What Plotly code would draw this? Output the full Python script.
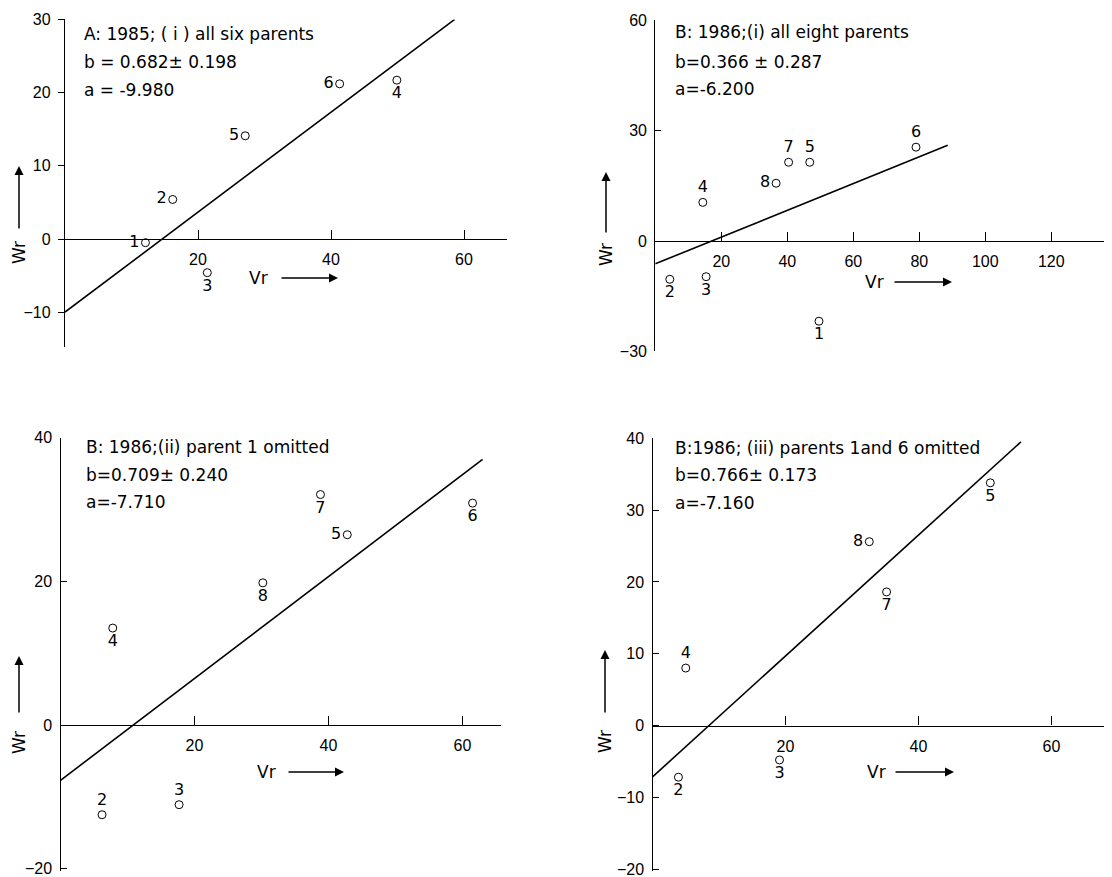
import plotly.graph_objects as go

# The page body adds an 8px margin, so the figure is shifted by OFF pixels;
# all pixel positions below are measured on the 1112x877 reference.
OFF = 8
W, H = 1112 - OFF, 877 - OFF

# ---------------- data ----------------
A_parents = ['1', '2', '3', '4', '5', '6']
A_vr = [12.1, 16.2, 21.4, 49.9, 27.1, 41.3]
A_wr = [-0.5, 5.4, -4.6, 21.7, 14.1, 21.2]
A_line_vr = [0, 58.6]
A_line_wr = [-9.98, 30.0]
A_text = ['A: 1985; ( i ) all six parents', 'b = 0.682± 0.198', 'a = -9.980']

B1_parents = ['1', '2', '3', '4', '5', '6', '7', '8']
B1_vr = [49.6, 4.4, 15.4, 14.4, 46.8, 79.0, 40.4, 36.6]
B1_wr = [-21.8, -10.4, -9.7, 10.5, 21.4, 25.5, 21.4, 15.7]
B1_line_vr = [0, 88.6]
B1_line_wr = [-6.2, 26.0]
B1_text = ['B: 1986;(i) all eight parents', 'b=0.366 ± 0.287', 'a=-6.200']

B2_parents = ['2', '3', '4', '5', '6', '7', '8']
B2_vr = [6.2, 17.7, 7.8, 42.8, 61.5, 38.8, 30.2]
B2_wr = [-12.5, -11.1, 13.5, 26.5, 30.9, 32.1, 19.8]
B2_line_vr = [0, 63.0]
B2_line_wr = [-7.71, 37.0]
B2_text = ['B: 1986;(ii) parent 1 omitted', 'b=0.709± 0.240', 'a=-7.710']

B3_parents = ['2', '3', '4', '5', '7', '8']
B3_vr = [3.9, 19.1, 5.0, 50.8, 35.2, 32.6]
B3_wr = [-7.2, -4.8, 8.0, 33.8, 18.6, 25.6]
B3_line_vr = [0, 55.4]
B3_line_wr = [-7.16, 39.5]
B3_text = ['B:1986; (iii) parents 1and 6 omitted', 'b=0.766± 0.173', 'a=-7.160']

A_xticks = [20, 40, 60]
A_yticks = [-10, 0, 10, 20, 30]
B1_xticks = [20, 40, 60, 80, 100, 120]
B1_yticks = [-30, 0, 30, 60]
B2_xticks = [20, 40, 60]
B2_yticks = [-20, 0, 20, 40]
B3_xticks = [20, 40, 60]
B3_yticks = [-20, -10, 0, 10, 20, 30, 40]

# ---------------- styling / layout ----------------
FONT = 'Liberation Sans'
TFONT = 'DejaVu Sans'
FS = 16
TS = 17

panels = [
    dict(vr=A_vr, wr=A_wr, lab=A_parents, lvr=A_line_vr, lwr=A_line_wr, txt=A_text,
         xt=A_xticks, yt=A_yticks,
         pos=['middle left', 'middle left', 'bottom center', 'bottom center', 'middle left', 'middle left'],
         px0=65, sx=6.65, xmax=66.5, py0=239, sy=7.32, ymin=-14.8, ymax=30, yticks='outside',
         tx=82, ty=[34, 62, 90], wr_xy=(19, 252), wr_arrow=(230, 166), vr_xy=(258, 278), vr_arrow=(280, 338)),
    dict(vr=B1_vr, wr=B1_wr, lab=B1_parents, lvr=B1_line_vr, lwr=B1_line_wr, txt=B1_text,
         xt=B1_xticks, yt=B1_yticks,
         pos=['bottom center', 'bottom center', 'bottom center', 'top center', 'top center', 'top center', 'top center', 'middle left'],
         px0=655.3, sx=3.3, xmax=137.5, py0=241, sy=3.68, ymin=-30, ymax=60, yticks='inside',
         tx=673, ty=[32, 62, 89], wr_xy=(606, 255), wr_arrow=(234, 172), vr_xy=(874, 282), vr_arrow=(893, 952)),
    dict(vr=B2_vr, wr=B2_wr, lab=B2_parents, lvr=B2_line_vr, lwr=B2_line_wr, txt=B2_text,
         xt=B2_xticks, yt=B2_yticks,
         pos=['top center', 'top center', 'bottom center', 'middle left', 'bottom center', 'bottom center', 'bottom center'],
         px0=60.5, sx=6.7, xmax=65.8, py0=725, sy=7.18, ymin=-20.3, ymax=40, yticks='inside',
         tx=84, ty=[447, 475, 502], wr_xy=(19, 742), wr_arrow=(714, 656), vr_xy=(266, 772), vr_arrow=(287, 344)),
    dict(vr=B3_vr, wr=B3_wr, lab=B3_parents, lvr=B3_line_vr, lwr=B3_line_wr, txt=B3_text,
         xt=B3_xticks, yt=B3_yticks,
         pos=['bottom center', 'bottom center', 'top center', 'bottom center', 'bottom center', 'middle left'],
         px0=652.5, sx=6.65, xmax=69, py0=725.5, sy=7.18, ymin=-20.3, ymax=40, yticks='inside',
         tx=673, ty=[448, 475, 503], wr_xy=(605, 742), wr_arrow=(714, 650), vr_xy=(876, 772), vr_arrow=(894, 954)),
]


def fx(px):
    return (px - OFF) / W


def fy(py):
    return 1 - (py - OFF) / H


fig = go.Figure()
annotations = []
layout = {}

for i, p in enumerate(panels, start=1):
    sfx = '' if i == 1 else str(i)
    xa, ya = 'x' + sfx, 'y' + sfx
    fig.add_trace(go.Scatter(x=p['lvr'], y=p['lwr'], mode='lines', xaxis=xa, yaxis=ya,
                             line=dict(color='black', width=1.6), showlegend=False, hoverinfo='skip'))
    fig.add_trace(go.Scatter(x=p['vr'], y=p['wr'], mode='markers+text', text=p['lab'],
                             textposition=p['pos'], xaxis=xa, yaxis=ya,
                             textfont=dict(family=TFONT, size=FS, color='black'),
                             marker=dict(symbol='circle-open', size=8, color='black', line=dict(width=1)),
                             showlegend=False, cliponaxis=False))
    x0p = fx(p['px0'])
    x1p = min(1.0, fx(p['px0'] + p['sx'] * p['xmax']))
    ybot = max(0.0, fy(p['py0'] - p['sy'] * p['ymin']))
    ytop = fy(p['py0'] - p['sy'] * p['ymax'])
    ypos0 = fy(p['py0'])
    layout['xaxis' + sfx] = dict(domain=[x0p, x1p], range=[0, p['xmax']], anchor='free', position=ypos0,
                                 showline=True, linecolor='black', linewidth=1.3, ticks='inside', ticklen=9,
                                 tickwidth=1.2, tickcolor='black', tickvals=p['xt'], showgrid=False,
                                 zeroline=False, ticklabelstandoff=6, automargin=False,
                                 ticklabeloverflow='allow',
                                 tickfont=dict(family=FONT, size=FS, color='black'))
    layout['yaxis' + sfx] = dict(domain=[ybot, ytop], range=[p['ymin'], p['ymax']], anchor=xa,
                                 showline=True, linecolor='black', linewidth=1.3, ticks=p['yticks'], ticklen=6,
                                 tickwidth=1.2, tickcolor='black', tickvals=p['yt'], showgrid=False,
                                 zeroline=False, ticklabelstandoff=4, automargin=False,
                                 ticklabeloverflow='allow',
                                 tickfont=dict(family=FONT, size=FS, color='black'))
    # panel text
    for t, ty in zip(p['txt'], p['ty']):
        annotations.append(dict(x=fx(p['tx']), y=fy(ty), xref='paper', yref='paper', text=t,
                                showarrow=False, xanchor='left', yanchor='middle',
                                font=dict(family=TFONT, size=TS, color='black')))
    # Wr label + arrow
    wx, wy = p['wr_xy']
    annotations.append(dict(x=fx(wx), y=fy(wy), xref='paper', yref='paper', text='Wr', textangle=-90,
                            showarrow=False, xanchor='center', yanchor='middle',
                            font=dict(family=TFONT, size=17, color='black')))
    t0, t1 = p['wr_arrow']
    annotations.append(dict(x=fx(wx), y=fy(t1), ax=0, ay=t0 - t1, xref='paper', yref='paper',
                            axref='pixel', ayref='pixel', text='', showarrow=True, arrowhead=2,
                            arrowsize=1.2, arrowwidth=1.5, arrowcolor='black'))
    # Vr label + arrow
    vx, vy = p['vr_xy']
    annotations.append(dict(x=fx(vx), y=fy(vy), xref='paper', yref='paper', text='Vr',
                            showarrow=False, xanchor='center', yanchor='middle',
                            font=dict(family=TFONT, size=17, color='black')))
    a0, a1 = p['vr_arrow']
    annotations.append(dict(x=fx(a1), y=fy(vy), ax=a0 - a1, ay=0, xref='paper', yref='paper',
                            axref='pixel', ayref='pixel', text='', showarrow=True, arrowhead=2,
                            arrowsize=1.2, arrowwidth=1.5, arrowcolor='black'))

fig.update_layout(width=W, height=H, margin=dict(l=0, r=0, t=0, b=0, autoexpand=False),
                  paper_bgcolor='white', plot_bgcolor='white', annotations=annotations,
                  showlegend=False,
                  font=dict(family=FONT, size=FS, color='black'), **layout)

fig.write_html('out.html')
